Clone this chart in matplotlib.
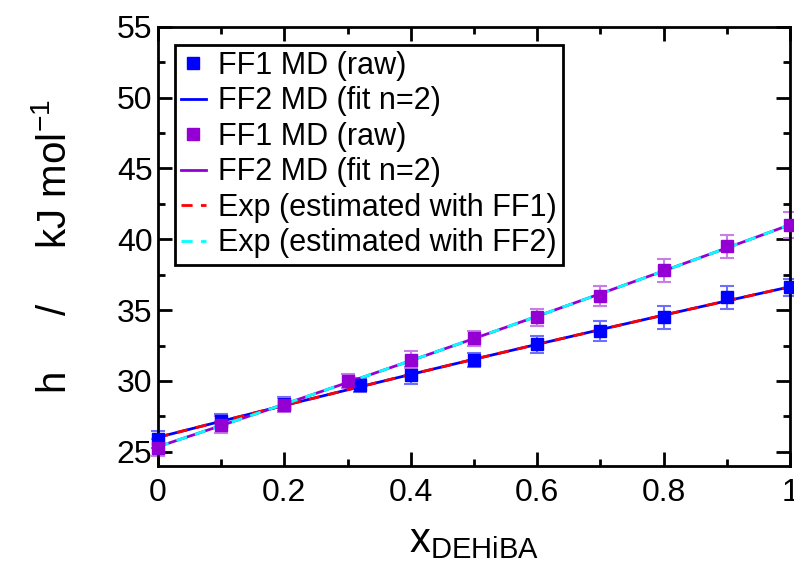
import numpy as np
import matplotlib
matplotlib.use("Agg")
import matplotlib.pyplot as plt
from matplotlib.ticker import MultipleLocator

plt.rcParams['font.family'] = ['Liberation Sans', 'DejaVu Sans']
plt.rcParams['mathtext.fontset'] = 'custom'
plt.rcParams['mathtext.rm'] = 'Liberation Sans'
plt.rcParams['mathtext.it'] = 'Liberation Sans'

x_ff1 = [0.0, 0.1, 0.2, 0.32, 0.4, 0.5, 0.6, 0.7, 0.8, 0.9, 1.0]
h_ff1 = [25.9, 27.2, 28.4, 29.7, 30.4, 31.5, 32.6, 33.5, 34.5, 35.9, 36.6]
err_ff1 = [0.6, 0.5, 0.5, 0.5, 0.6, 0.5, 0.6, 0.7, 0.8, 0.8, 0.6]

x_ff2 = [0.0, 0.1, 0.2, 0.3, 0.4, 0.5, 0.6, 0.7, 0.8, 0.9, 1.0]
h_ff2 = [25.3, 26.9, 28.3, 30.0, 31.5, 33.0, 34.5, 36.0, 37.8, 39.5, 41.0]
err_ff2 = [0.6, 0.6, 0.5, 0.5, 0.6, 0.5, 0.6, 0.7, 0.8, 0.8, 0.9]

blue = '#0000ff'
purple = '#9400d3'

# fits n=2
c1 = np.polyfit(x_ff1, h_ff1, 2)
c2 = np.polyfit(x_ff2, h_ff2, 2)
xf = np.linspace(0, 1, 200)

fig = plt.figure(figsize=(7.94, 5.71), dpi=100)
ax = fig.add_axes([0.199, 0.184, 0.796, 0.769])

eb1 = ax.errorbar(x_ff1, h_ff1, yerr=err_ff1, fmt='none', ecolor='#6e6eff', capsize=5, elinewidth=1.5, capthick=1.5)
eb2 = ax.errorbar(x_ff2, h_ff2, yerr=err_ff2, fmt='none', ecolor='#c77ee8', capsize=5, elinewidth=1.5, capthick=1.5)
for eb in (eb1, eb2):
    for a in eb.get_children():
        a.set_clip_on(False)

ax.plot(x_ff1, h_ff1, 's', color=blue, ms=8.5, label='FF1 MD (raw)', clip_on=False, zorder=4)
ax.plot(xf, np.polyval(c1, xf), '-', color=blue, lw=2, label='FF2 MD (fit n=2)')
ax.plot(x_ff2, h_ff2, 's', color=purple, ms=8.5, label='FF1 MD (raw)', clip_on=False, zorder=4)
ax.plot(xf, np.polyval(c2, xf), '-', color=purple, lw=2, label='FF2 MD (fit n=2)')
ax.plot(xf, np.polyval(c1, xf), '--', color='#ff0000', lw=2, dashes=(4, 3), label='Exp (estimated with FF1)')
ax.plot(xf, np.polyval(c2, xf), '--', color='#00ffff', lw=2, dashes=(4, 3), label='Exp (estimated with FF2)')

ax.set_xlim(0, 1)
ax.set_ylim(24, 55)
ax.xaxis.set_minor_locator(MultipleLocator(0.1))
ax.yaxis.set_minor_locator(MultipleLocator(2.5))
ax.set_yticks([25, 30, 35, 40, 45, 50, 55])
ax.set_xticks([0, 0.2, 0.4, 0.6, 0.8, 1.0])
ax.set_xticklabels(['0', '0.2', '0.4', '0.6', '0.8', '1'])

ax.tick_params(which='both', direction='in', top=True, right=True, width=2, labelsize=23)
ax.tick_params(which='major', length=10)
ax.tick_params(which='minor', length=5)
ax.tick_params(axis='x', pad=9)
ax.tick_params(axis='y', pad=4)
for s in ax.spines.values():
    s.set_linewidth(2)

ax.set_xlabel('x$_{\\mathrm{DEHiBA}}$', fontsize=30, labelpad=9)
ax.set_ylabel('h     /     kJ mol$^{\\mathrm{-1}}$', fontsize=29, labelpad=31)

leg = ax.legend(loc='upper left', bbox_to_anchor=(0.027, 0.959), fontsize=22, fancybox=False,
                edgecolor='black', framealpha=1, handlelength=0.8, handletextpad=0.42,
                labelspacing=0.18, borderpad=0.2, borderaxespad=0, markerscale=0.95)
leg.get_frame().set_linewidth(2)
leg.set_zorder(5)

plt.savefig('out.png', dpi=100)
